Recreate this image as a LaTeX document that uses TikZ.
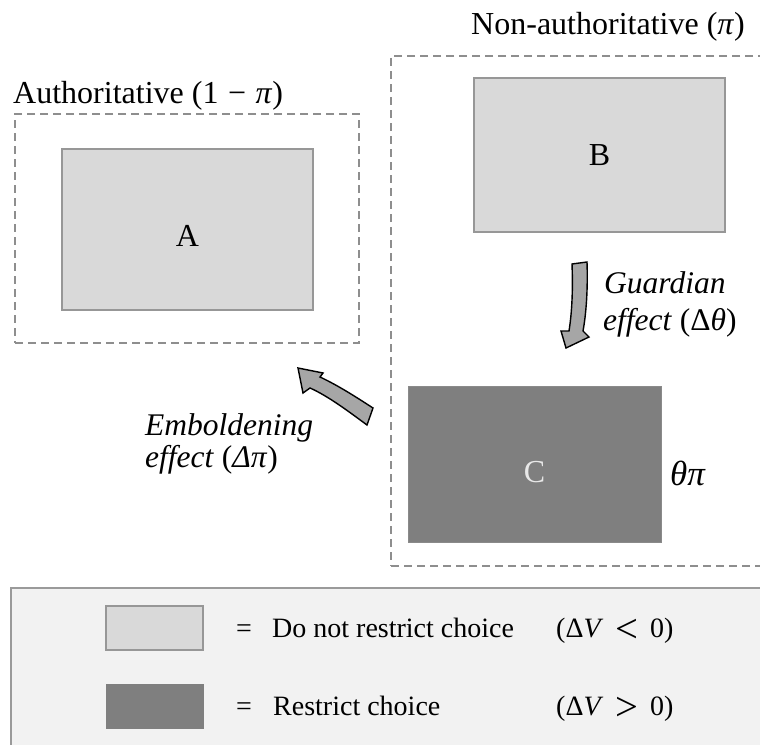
\documentclass[tikz,border=0pt]{standalone}
\usepackage{fontspec}
\setmainfont{Liberation Serif}
\definecolor{lightfill}{HTML}{D9D9D9}
\definecolor{lightline}{HTML}{979797}
\definecolor{darkfill}{HTML}{7F7F7F}
\definecolor{darkline}{HTML}{8A8A8A}
\definecolor{legfill}{HTML}{F2F2F2}
\definecolor{legline}{HTML}{9A9A9A}
\definecolor{dashgray}{HTML}{8E8E8E}
\definecolor{arrowfill}{HTML}{A6A6A6}
\definecolor{ctext}{HTML}{E8E8E8}
\begin{document}
\begin{tikzpicture}[x=1pt,y=-1pt,
  lightbox/.style={draw=lightline, fill=lightfill, line width=2pt, inner sep=0pt},
  darkbox/.style={draw=darkline, fill=darkfill, line width=1pt, inner sep=0pt},
  grpbox/.style={draw=dashgray, dash pattern=on 8pt off 5pt, line width=1.7pt, inner sep=0pt},
  lbl/.style={font=\fontsize{32}{36}\selectfont, inner sep=0pt},
  efflbl/.style={font=\fontsize{31.5}{36}\selectfont\itshape, inner sep=0pt, anchor=base west},
  legtxt/.style={font=\fontsize{28}{32}\selectfont, inner sep=0pt, anchor=base west},
  fatarrow/.style={fill=arrowfill, draw=black, line width=1.4pt, line join=miter}]
\useasboundingbox (0,0) rectangle (760,744);
\clip (0,0) rectangle (760,744);
\fill[white] (0,0) rectangle (760,744);

% groups
\node[grpbox, minimum width=344pt, minimum height=229pt] (g1) at (187,228.5) {};
\node[grpbox, minimum width=420pt, minimum height=510pt] (g2) at (601,311) {};
\node[lbl, anchor=base west] (tA) at (13,103) {Authoritative (1\hspace{0.3em}−\hspace{0.3em}\textit{π})};
\node[lbl, anchor=base east] (tB) at (745,34) {Non-authoritative (\textit{π})};

% boxes
\node[lightbox, minimum width=251pt, minimum height=161pt, font=\fontsize{32}{34}\selectfont, text height=33pt] (A) at (187.5,229.5) {A};
\node[lightbox, minimum width=251pt, minimum height=154pt, font=\fontsize{32}{34}\selectfont] (B) at (599.5,155) {B};
\node[darkbox, minimum width=253pt, minimum height=156pt, font=\fontsize{32}{34}\selectfont, text=ctext, text height=38pt] (C) at (534.5,464) {C};
\node[lbl, anchor=base west, font=\fontsize{35}{38}\selectfont] (tp) at (670,485) {\textit{θπ}};

% guardian arrow
\draw[fatarrow] (572,264) -- (587,262) .. controls (588,290) and (586,315) .. (583,331)
  -- (589,337) -- (566,348) -- (561,331) -- (569,331)
  .. controls (572,312) and (573,290) .. (572,264) -- cycle;
\node[efflbl] (g1l) at (604,293) {Guardian};
\node[efflbl] (g2l) at (603,330) {effect \textup{(Δ\textit{θ})}};

% emboldening arrow
\draw[fatarrow] (373,408) .. controls (353,395) and (337,385) .. (320,377)
  -- (323,373) -- (298,368) -- (303,393) -- (310,388)
  .. controls (328,396) and (348,411) .. (367,425) -- cycle;
\node[efflbl] (e1l) at (145,435) {Emboldening};
\node[efflbl] (e2l) at (145,467) {effect \textup{(}Δπ\textup{)}};

% legend
\node[draw=legline, fill=legfill, line width=2pt, minimum width=780pt, minimum height=200pt, anchor=north west, inner sep=0pt] (leg) at (10,587) {};
\node[lightbox, minimum width=97pt, minimum height=44pt] (s1) at (154.5,628) {};
\node[darkbox, draw=darkfill, minimum width=97pt, minimum height=44pt] (s2) at (154.5,706) {};
\node[legtxt] (eq1) at (236,637) {=};
\node[legtxt] (t1) at (272,637) {Do not restrict choice};
\node[legtxt] (p1) at (556,637) {(Δ\textit{V}\hspace{12pt}\raisebox{-5pt}{\scalebox{1.45}{<}}\hspace{12pt}0)};
\node[legtxt] (eq2) at (236,715) {=};
\node[legtxt] (t2) at (273,715) {Restrict choice};
\node[legtxt] (p2) at (556,715) {(Δ\textit{V}\hspace{12pt}\raisebox{-5pt}{\scalebox{1.45}{>}}\hspace{12pt}0)};
\end{tikzpicture}
\end{document}
